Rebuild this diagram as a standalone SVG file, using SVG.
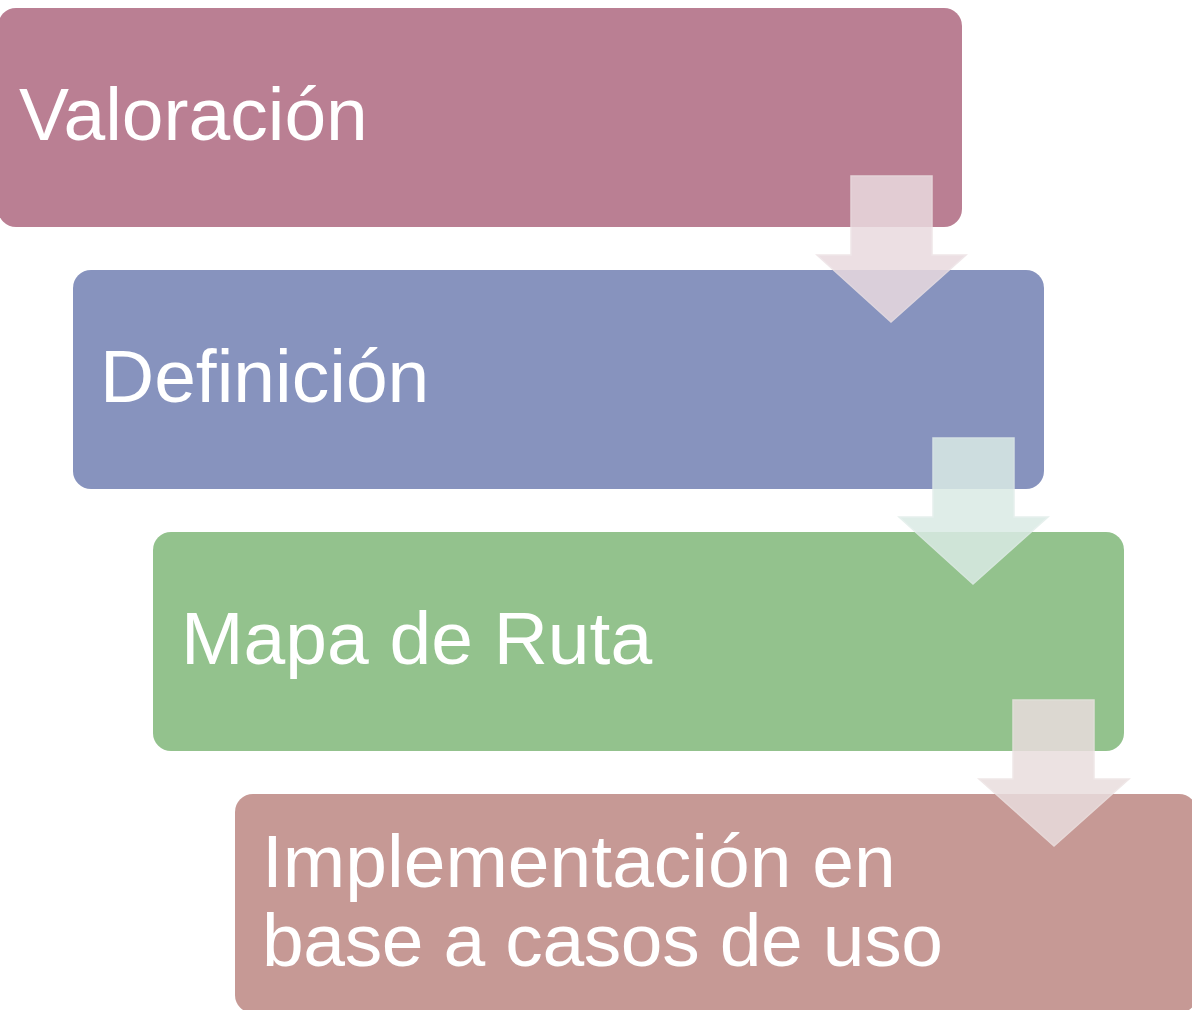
<svg xmlns="http://www.w3.org/2000/svg" width="1192" height="1010" viewBox="0 0 1192 1010">
<style>
.lbl{font-family:"Liberation Sans",Arial,Helvetica,sans-serif;font-size:75px;fill:#ffffff}
.arr{stroke-width:1.5;opacity:0.85}
</style>
<rect width="1192" height="1010" fill="#ffffff"/>
<g id="node-valoracion">
<rect x="-2" y="8" width="964" height="219" rx="18" fill="#BA7F93"/>
<text class="lbl" x="19" y="140">Valoración</text>
</g>
<g id="node-definicion">
<rect x="73" y="270" width="971" height="219" rx="18" fill="#8793BE"/>
<text class="lbl" x="100" y="402">Definición</text>
</g>
<g id="node-mapa">
<rect x="153" y="532" width="971" height="219" rx="18" fill="#93C28D"/>
<text class="lbl" x="181" y="664">Mapa de Ruta</text>
</g>
<g id="node-implementacion">
<rect x="235" y="794" width="962" height="219" rx="18" fill="#C69995"/>
<text class="lbl" x="262" y="887">Implementación en</text>
<text class="lbl" x="262" y="966" textLength="681" lengthAdjust="spacing">base a casos de uso</text>
</g>
<g id="connectors">
<polygon class="arr" points="851,176 932,176 932,255 966,255 891,322 817,255 851,255" fill="#E9DADF" stroke="#EDE2E5"/>
<polygon class="arr" points="933,438 1014,438 1014,517 1048,517 973,584 899,517 933,517" fill="#DAEAE5" stroke="#E2EEEA"/>
<polygon class="arr" points="1013,700 1094,700 1094,779 1129,779 1054,846 979,779 1013,779" fill="#E9DDDD" stroke="#EDE3E3"/>
</g>
</svg>
